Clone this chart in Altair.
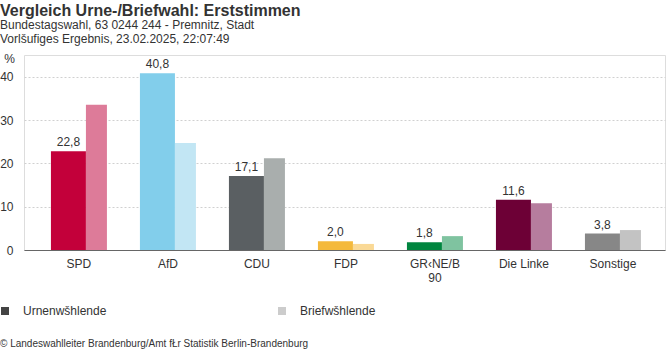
import altair as alt
import pandas as pd

# ---- data ----
parties = ["SPD", "AfD", "CDU", "FDP", "GR‹NE/B 90", "Die Linke", "Sonstige"]
urne = [22.8, 40.8, 17.1, 2.0, 1.8, 11.6, 3.8]
brief = [33.5, 24.7, 21.2, 1.4, 3.2, 10.8, 4.6]
urne_colors = ["#C3003A", "#82CEEB", "#5A5F62", "#F4B93C", "#00853F", "#6D0036", "#878787"]
brief_colors = ["#DD7B99", "#C2E6F4", "#A9AEAD", "#FAD996", "#7FC3A0", "#B67D9E", "#C3C3C3"]
y_ticks = [0, 10, 20, 30, 40]
legend_types = ["Urnenwšhlende", "Briefwšhlende"]
legend_colors = ["#444444", "#CCCCCC"]

title = "Vergleich Urne-/Briefwahl: Erststimmen"
subtitle1 = "Bundestagswahl, 63 0244 244 - Premnitz, Stadt"
subtitle2 = "Vorlšufiges Ergebnis, 23.02.2025, 22:07:49"
credits = "© Landeswahlleiter Brandenburg/Amt fŁr Statistik Berlin-Brandenburg"

FONT = "Liberation Sans"
TXT = "#333333"

df_u = pd.DataFrame({
    "Partei": parties, "Wert": urne, "Farbe": urne_colors,
    "Label": [f"{v:.1f}".replace(".", ",") for v in urne],
})
df_b = pd.DataFrame({"Partei": parties, "Wert": brief, "Farbe": brief_colors})

x_enc = alt.X(
    "Partei:N", sort=parties,
    scale=alt.Scale(paddingInner=0, paddingOuter=0.101, align=0.58),
    axis=alt.Axis(
        title=None, labelAngle=0, domain=True, domainColor="#666666", domainWidth=1,
        ticks=False, tickSize=0, labelPadding=8, labelFontSize=12, labelColor=TXT,
        labelFont=FONT, labelLineHeight=14,
        labelExpr="indexof(datum.label, 'B 90') > 0 ? ['GR‹NE/B', '90'] : datum.label",
    ),
)
y_enc = alt.Y(
    "Wert:Q",
    scale=alt.Scale(domain=[0, 45], nice=False),
    axis=alt.Axis(
        values=y_ticks, title="%", titleAngle=0, titleX=-15, titleY=3,
        titleAlign="center", titleBaseline="middle", titleFontWeight="normal",
        titleFontSize=12, titleColor=TXT, titleFont=FONT,
        domain=False, ticks=False, tickSize=0, labelPadding=11,
        grid=True, gridDash=[2, 2], gridColor="#D0D0D0",
        labelFontSize=12, labelColor=TXT, labelFont=FONT,
    ),
)

urne_bars = alt.Chart(df_u).mark_bar(width=35, xOffset=-10.5).encode(
    x=x_enc, y=y_enc, fill=alt.Fill("Farbe:N", scale=None)
)
brief_bars = alt.Chart(df_b).mark_bar(width=21, xOffset=17.5).encode(
    x=alt.X("Partei:N", sort=parties), y=alt.Y("Wert:Q"),
    fill=alt.Fill("Farbe:N", scale=None),
)
value_labels = alt.Chart(df_u).mark_text(
    dx=-10.5, dy=-5, baseline="alphabetic", fontSize=12, color=TXT, font=FONT
).encode(x=alt.X("Partei:N", sort=parties), y=alt.Y("Wert:Q"), text="Label:N")

legend_layer = alt.Chart(pd.DataFrame({"Art": legend_types})).mark_square(
    opacity=0, size=64
).encode(
    color=alt.Color(
        "Art:N", sort=legend_types,
        scale=alt.Scale(domain=legend_types, range=legend_colors),
        legend=alt.Legend(
            title=None, orient="none", legendX=-25, legendY=250,
            direction="horizontal", columns=2, columnPadding=169,
            symbolType="square", symbolSize=64, symbolStrokeWidth=0,
            symbolOpacity=1, labelFontSize=12, labelColor=TXT, labelFont=FONT,
            labelOffset=12, padding=0,
        ),
    )
)


def text_layer(s, x, y, size, weight="normal"):
    return alt.Chart(pd.DataFrame({"t": [s]})).mark_text(
        align="left", baseline="alphabetic", fontSize=size, fontWeight=weight,
        color=TXT, font=FONT,
    ).encode(x=alt.value(x), y=alt.value(y), text="t:N")


chart = alt.layer(
    urne_bars, brief_bars, value_labels, legend_layer,
    text_layer(title, -24, -39, 16, "bold"),
    text_layer(subtitle1, -24, -26, 12),
    text_layer(subtitle2, -24, -12, 12),
    text_layer(credits, -24, 292, 10),
).properties(
    width=641, height=195,
    autosize=alt.AutoSizeParams(type="none"),
    padding={"left": 24, "top": 55, "right": 3, "bottom": 102},
).configure_view(stroke=None).configure(font=FONT)

chart.save("out.html", embed_options={"renderer": "svg", "actions": False})
